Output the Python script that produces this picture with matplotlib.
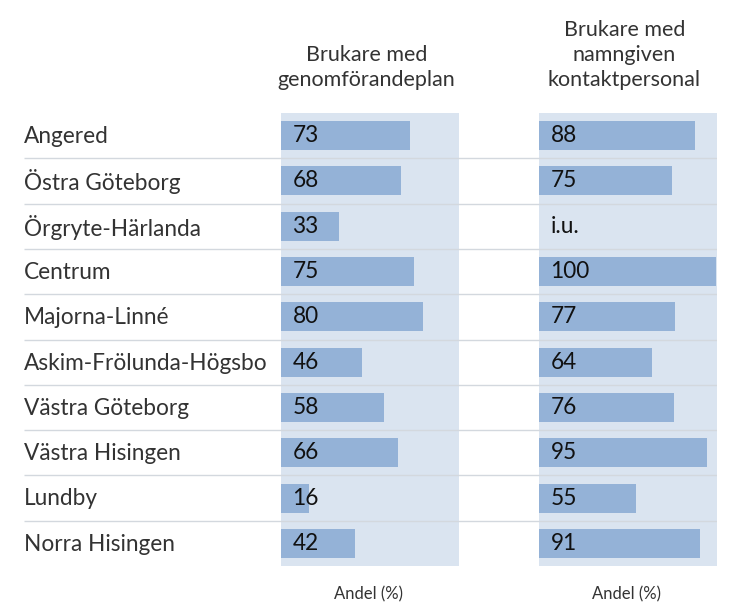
import matplotlib
matplotlib.use("Agg")
import matplotlib.pyplot as plt
import numpy as np

categories = ["Angered", "Östra Göteborg", "Örgryte-Härlanda", "Centrum", "Majorna-Linné",
              "Askim-Frölunda-Högsbo", "Västra Göteborg", "Västra Hisingen", "Lundby", "Norra Hisingen"]
genomforandeplan = [73, 68, 33, 75, 80, 46, 58, 66, 16, 42]
kontaktpersonal = [88, 75, None, 100, 77, 64, 76, 95, 55, 91]
titles = ["Brukare med\ngenomförandeplan", "Brukare med\nnamngiven\nkontaktpersonal"]
xlabel = "Andel (%)"
missing_label = "i.u."

W, H = 742, 613
plt.rcParams['font.family'] = ['Lato', 'DejaVu Sans']
fig = plt.figure(figsize=(W / 100, H / 100), dpi=100)

BG = "#dae4f0"
BAR = "#94b2d7"
TXT = "#333333"
LINE = "#d3d8de"

top_px, bot_px = 113, 566

def rect(x0, x1):
    return [x0 / W, (H - bot_px) / H, (x1 - x0) / W, (bot_px - top_px) / H]

n = len(categories)
y = np.arange(n)

# overlay axes for row labels and separators
axo = fig.add_axes(rect(24, 717), zorder=3)
axo.set_xlim(0, 1)
axo.set_ylim(n - 0.5, -0.5)
axo.patch.set_alpha(0)
axo.axis("off")
axo.hlines(np.arange(n - 1) + 0.5, 0, 1, color=LINE, lw=1)
for i, c in enumerate(categories):
    axo.text(0, i + 0.02, c, ha="left", va="center", fontsize=16.3, color=TXT)

panels = [(281, 459, genomforandeplan, titles[0]), (539, 717, kontaktpersonal, titles[1])]
for x0, x1, vals, title in panels:
    ax = fig.add_axes(rect(x0, x1), zorder=1)
    ax.set_facecolor(BG)
    ax.set_xlim(0, 100.5)
    ax.set_ylim(n - 0.5, -0.5)
    for s in ax.spines.values():
        s.set_visible(False)
    ax.set_xticks([])
    ax.set_yticks([])
    for i, v in enumerate(vals):
        if v is None:
            ax.text(6.5, i, missing_label, ha="left", va="center", fontsize=16.3, color="#111111")
            continue
        ax.barh(i, v, height=0.64, left=0, color=BAR)
        ax.text(6.5, i, str(v), ha="left", va="center", fontsize=16.3, color="#111111")
    ax.text(0.48, 1.05, title, transform=ax.transAxes, ha="center", va="bottom",
            fontsize=15.5, color=TXT, linespacing=1.32)
    ax.text(0.49, -0.045, xlabel, transform=ax.transAxes, ha="center", va="top",
            fontsize=12, color=TXT)

fig.savefig("out.png", dpi=100, facecolor="white")
